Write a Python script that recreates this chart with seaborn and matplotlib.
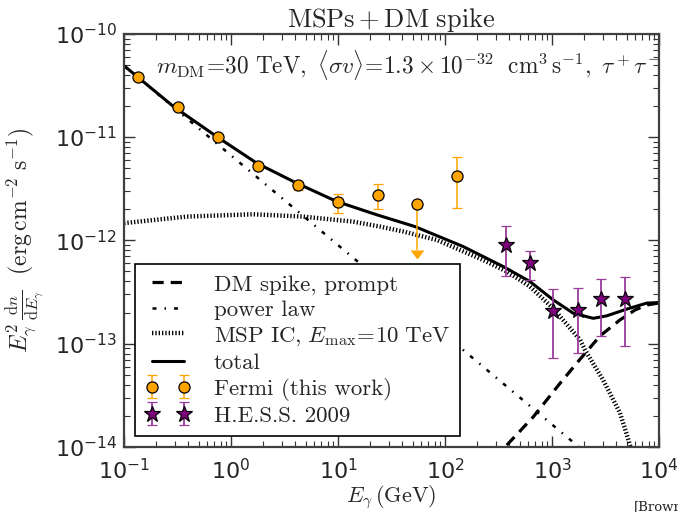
import numpy as np
import pandas as pd
import matplotlib
matplotlib.use("Agg")
import matplotlib.pyplot as plt
import seaborn as sns

# ---------------- data ----------------
fermi_E = [0.134, 0.316, 0.75, 1.77, 4.2, 9.9, 23.4, 55, 130]
fermi_F = [3.83e-11, 1.95e-11, 1.0e-11, 5.2e-12, 3.42e-12, 2.34e-12, 2.73e-12, 2.24e-12, 4.18e-12]
fermi_hi = [3.95e-11, 2.0e-11, 1.03e-11, 5.35e-12, 3.77e-12, 2.84e-12, 3.48e-12, 2.24e-12, 6.35e-12]
fermi_lo = [3.7e-11, 1.9e-11, 0.97e-11, 5.05e-12, 3.05e-12, 1.86e-12, 2.0e-12, 8.0e-13, 2.06e-12]
fermi_ul = [False, False, False, False, False, False, False, True, False]

hess_E = [370, 625, 1020, 1740, 2850, 4800]
hess_F = [9.1e-13, 6.0e-13, 2.05e-13, 2.12e-13, 2.72e-13, 2.72e-13]
hess_hi = [1.37e-12, 7.9e-13, 3.4e-13, 3.48e-13, 4.25e-13, 4.41e-13]
hess_lo = [4.54e-13, 4.18e-13, 7.2e-14, 8.2e-14, 1.2e-13, 9.4e-14]

total_E = [0.1, 0.289, 0.735, 1.74, 4.11, 9.72, 23.0, 52.4, 148, 351, 623, 1028, 1581, 2432, 3243, 4990, 7674, 10000]
total_F = [4.9e-11, 1.98e-11, 1.01e-11, 5.59e-12, 3.58e-12, 2.38e-12, 1.77e-12, 1.36e-12, 8.71e-13,
           5.57e-13, 3.99e-13, 2.65e-13, 1.97e-13, 1.76e-13, 1.86e-13, 2.16e-13, 2.47e-13, 2.5e-13]

pl_E = [0.1, 1, 10, 100, 1000, 10000]
pl_F = [4.9e-11, 6.64e-12, 9.0e-13, 1.22e-13, 1.65e-14, 2.24e-15]

ic_E = [0.1, 0.386, 1.6, 4.7, 13.8, 24.7, 40.5, 83.6, 217, 377, 623, 1022, 1828, 2034, 2998, 4324, 5357, 6200]
ic_F = [1.47e-12, 1.70e-12, 1.79e-12, 1.70e-12, 1.52e-12, 1.36e-12, 1.22e-12, 1.01e-12, 6.6e-13,
        5.0e-13, 3.57e-13, 2.2e-13, 1.09e-13, 8.7e-14, 4.46e-14, 2.13e-14, 1.04e-14, 6.5e-15]

dm_E = [300, 364, 669, 1189, 1828, 2812, 4324, 5970, 7727, 10000]
dm_F = [7.5e-15, 1.0e-14, 1.96e-14, 4.14e-14, 7.07e-14, 1.19e-13, 1.70e-13, 2.12e-13, 2.37e-13, 2.48e-13]

xticks = [0.1, 1, 10, 100, 1000, 10000]
yticks = [1e-14, 1e-13, 1e-12, 1e-11, 1e-10]

# ---------------- style ----------------
sns.set_style("ticks")
plt.rcParams["font.family"] = ["DejaVu Sans"]
plt.rcParams["mathtext.fontset"] = "cm"

fig = plt.figure(figsize=(6.78, 5.12), dpi=100)
ax = fig.add_axes([0.183, 0.127, 0.789, 0.807])

df_dm = pd.DataFrame({"E": dm_E, "F": dm_F})
df_pl = pd.DataFrame({"E": pl_E, "F": pl_F})
df_ic = pd.DataFrame({"E": ic_E, "F": ic_F})
df_tot = pd.DataFrame({"E": total_E, "F": total_F})

sns.lineplot(data=df_dm, x="E", y="F", ax=ax, color="black", lw=2.3, sort=False,
             estimator=None, dashes=False, label="DM spike, prompt")
ax.lines[-1].set_dashes((3.5, 2.2))
sns.lineplot(data=df_pl, x="E", y="F", ax=ax, color="black", lw=1.8, sort=False,
             estimator=None, label="power law")
ax.lines[-1].set_dashes((1.6, 3.2, 0.6, 3.2))
sns.lineplot(data=df_ic, x="E", y="F", ax=ax, color="black", lw=3.2, sort=False,
             estimator=None, label=r"$\mathrm{MSP\ IC{,}}\ E_{\rm max}\!=\!10\ \mathrm{TeV}$")
ax.lines[-1].set_dashes((0.3, 0.45))
sns.lineplot(data=df_tot, x="E", y="F", ax=ax, color="black", lw=2.2, sort=False,
             estimator=None, label="total")

ax.set_xscale("log")
ax.set_yscale("log")

fE = np.array(fermi_E); fF = np.array(fermi_F)
fhi = np.array(fermi_hi); flo = np.array(fermi_lo); ful = np.array(fermi_ul)
reg = ~ful
fer = ax.errorbar(fE[reg], fF[reg], yerr=[fF[reg] - flo[reg], fhi[reg] - fF[reg]], fmt="o",
                  color="#FFA500", mfc="#FFA500", mec="black", mew=0.9, ms=8, ecolor="#FFA500",
                  elinewidth=1.1, capsize=3.5, capthick=1.1, zorder=5,
                  label="Fermi (this work)")
ax.errorbar(fE[ful], fF[ful], yerr=[fF[ful] - flo[ful], np.zeros(ful.sum())], uplims=True,
            fmt="o", color="#FFA500", mfc="#FFA500", mec="black", mew=0.9, ms=8,
            ecolor="#FFA500", elinewidth=1.1, capsize=4, capthick=1.1, zorder=5)

hE = np.array(hess_E); hF = np.array(hess_F)
hhi = np.array(hess_hi); hlo = np.array(hess_lo)
hes = ax.errorbar(hE, hF, yerr=[hF - hlo, hhi - hF], fmt="*", color="#800080", mfc="#800080",
                  mec="black", mew=0.9, ms=12, ecolor="#9a3a9a", elinewidth=1.3, capsize=3.5,
                  capthick=1.3, zorder=5, label="H.E.S.S. 2009")

ax.set_xlim(0.1, 1e4)
ax.set_ylim(1e-14, 1e-10)
ax.set_xticks(xticks)
ax.set_yticks(yticks)
ax.tick_params(which="both", direction="in", top=True, right=True, labelsize=16,
               color="#333333")
ax.tick_params(which="major", length=8, width=1.0)
ax.tick_params(axis="x", which="major", pad=8)
ax.tick_params(axis="y", which="major", pad=5)
ax.tick_params(which="minor", length=4, width=0.8)
for s in ax.spines.values():
    s.set_linewidth(1.6)
    s.set_color("#404040")

ax.set_xlabel(r"$E_\gamma\,(\mathrm{GeV})$", fontsize=16, labelpad=0)
ax.set_ylabel(r"$E_\gamma^2\,\frac{\mathrm{d}n}{\mathrm{d}E_\gamma}\ \ (\mathrm{erg\,cm^{-2}\ s^{-1}})$",
              fontsize=17, labelpad=6)
ax.set_title(r"$\mathrm{MSPs}+\mathrm{DM\ spike}$", fontsize=19, pad=5)
ax.text(0.06, 0.925,
        r"$m_{\rm DM}\!=\!30\ \mathrm{TeV},\ \langle\sigma v\rangle\!=\!1.3\times 10^{-32}\ \ \mathrm{cm}^3\,\mathrm{s}^{-1},\ \tau^+\tau^-$",
        transform=ax.transAxes, fontsize=16.8, ha="left", va="center")

handles, labels = ax.get_legend_handles_labels()
leg = ax.legend(handles, labels, loc="lower left", bbox_to_anchor=(0.02, 0.026),
                borderaxespad=0, prop={"family": "cmr10", "size": 16.5}, numpoints=2,
                frameon=True, fancybox=False, framealpha=1, handlelength=2.0,
                handletextpad=1.0, labelspacing=0.22, borderpad=0.45)
leg.get_frame().set_edgecolor("black")
leg.get_frame().set_linewidth(1.2)

fig.text(0.935, 0.004, "[Brown", fontsize=9.5, family="DejaVu Serif")

fig.savefig("out.png", dpi=100)
